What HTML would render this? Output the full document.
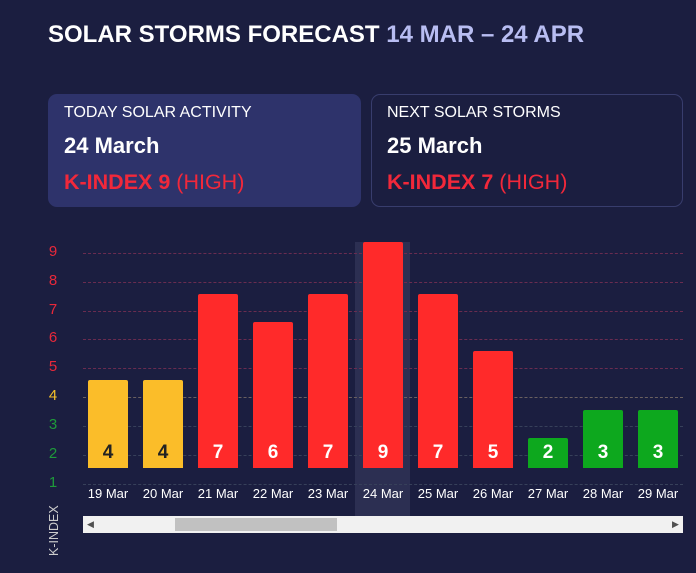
<!DOCTYPE html>
<html><head><style>
body{margin:0;width:696px;height:573px;background:#1b1e40;font-family:"Liberation Sans",sans-serif;position:relative;overflow:hidden}
.a{position:absolute}
.card{position:absolute;top:94px;height:113px;border-radius:9px;box-sizing:border-box}
.card .t{position:absolute;left:16px;top:10px;color:#fff;font-size:16px}
.card .d{position:absolute;left:16px;top:39px;color:#fff;font-size:22px;font-weight:bold}
.card .k{position:absolute;left:16px;top:76px;color:#f2283a;font-size:21.5px}
.yl{position:absolute;left:47px;font-size:15px;width:12px;text-align:center}
.g{position:absolute;left:83px;width:600px;border-top:1px dashed #6a2c50}
.bar{position:absolute;width:40px;border-radius:2px 2px 0 0}
.v{position:absolute;bottom:4px;width:40px;text-align:center;font-size:19px;font-weight:bold}
.xl{position:absolute;top:486px;width:56px;text-align:center;color:#fff;font-size:13px}
</style></head><body>
<div class="a" style="left:48px;top:21px;font-size:24px;font-weight:bold;color:#fff">SOLAR STORMS FORECAST <span style="color:#b8bdf2">14 MAR – 24 APR</span></div>
<div class="card" style="left:48px;width:313px;background:#2e336b"><div class="t">TODAY SOLAR ACTIVITY</div><div class="d">24 March</div><div class="k"><b>K-INDEX 9</b> (HIGH)</div></div>
<div class="card" style="left:371px;width:312px;border:1px solid #383d6d"><div class="t" style="left:15px;top:9px">NEXT SOLAR STORMS</div><div class="d" style="left:15px;top:38px">25 March</div><div class="k" style="left:15px;top:75px"><b>K-INDEX 7</b> (HIGH)</div></div>
<div class="a" style="left:355px;top:242px;width:55px;height:274px;background:#2c2f52"></div>
<div class="g" style="top:253px"></div><div class="g" style="top:282px"></div><div class="g" style="top:311px"></div><div class="g" style="top:339px"></div><div class="g" style="top:368px"></div><div class="g" style="top:397px;border-color:#6a6060"></div><div class="g" style="top:426px;border-color:#37405a"></div><div class="g" style="top:455px;border-color:#37405a"></div><div class="g" style="top:484px;border-color:#37405a"></div>
<div class="yl" style="top:243px;color:#e8283a">9</div><div class="yl" style="top:272px;color:#e8283a">8</div><div class="yl" style="top:301px;color:#e8283a">7</div><div class="yl" style="top:329px;color:#e8283a">6</div><div class="yl" style="top:358px;color:#e8283a">5</div><div class="yl" style="top:387px;color:#f5c02a">4</div><div class="yl" style="top:416px;color:#1e9a3a">3</div><div class="yl" style="top:445px;color:#1e9a3a">2</div><div class="yl" style="top:474px;color:#1e9a3a">1</div>
<div class="a" style="left:47px;top:556px;transform:rotate(-90deg);transform-origin:0 0;color:#ccc;font-size:12.5px">K-INDEX</div>
<div class="bar" style="left:88px;top:380px;height:88px;background:#fbbd29"><div class="v" style="color:#222">4</div></div>
<div class="bar" style="left:143px;top:380px;height:88px;background:#fbbd29"><div class="v" style="color:#222">4</div></div>
<div class="bar" style="left:198px;top:294px;height:174px;background:#ff2a2a"><div class="v" style="color:#fff">7</div></div>
<div class="bar" style="left:253px;top:322px;height:146px;background:#ff2a2a"><div class="v" style="color:#fff">6</div></div>
<div class="bar" style="left:308px;top:294px;height:174px;background:#ff2a2a"><div class="v" style="color:#fff">7</div></div>
<div class="bar" style="left:363px;top:242px;height:226px;background:#ff2a2a"><div class="v" style="color:#fff">9</div></div>
<div class="bar" style="left:418px;top:294px;height:174px;background:#ff2a2a"><div class="v" style="color:#fff">7</div></div>
<div class="bar" style="left:473px;top:351px;height:117px;background:#ff2a2a"><div class="v" style="color:#fff">5</div></div>
<div class="bar" style="left:528px;top:438px;height:30px;background:#0da81e"><div class="v" style="color:#fff">2</div></div>
<div class="bar" style="left:583px;top:410px;height:58px;background:#0da81e"><div class="v" style="color:#fff">3</div></div>
<div class="bar" style="left:638px;top:410px;height:58px;background:#0da81e"><div class="v" style="color:#fff">3</div></div>
<div class="xl" style="left:80px">19 Mar</div><div class="xl" style="left:135px">20 Mar</div><div class="xl" style="left:190px">21 Mar</div><div class="xl" style="left:245px">22 Mar</div><div class="xl" style="left:300px">23 Mar</div><div class="xl" style="left:355px">24 Mar</div><div class="xl" style="left:410px">25 Mar</div><div class="xl" style="left:465px">26 Mar</div><div class="xl" style="left:520px">27 Mar</div><div class="xl" style="left:575px">28 Mar</div><div class="xl" style="left:630px">29 Mar</div>
<div class="a" style="left:83px;top:516px;width:600px;height:17px;background:#f1f1f1"></div>
<div class="a" style="left:175px;top:518px;width:162px;height:13px;background:#c1c1c1"></div>
<div class="a" style="left:87px;top:519px;font-size:9px;color:#505050">◀</div>
<div class="a" style="left:672px;top:519px;font-size:9px;color:#505050">▶</div>
</body></html>
